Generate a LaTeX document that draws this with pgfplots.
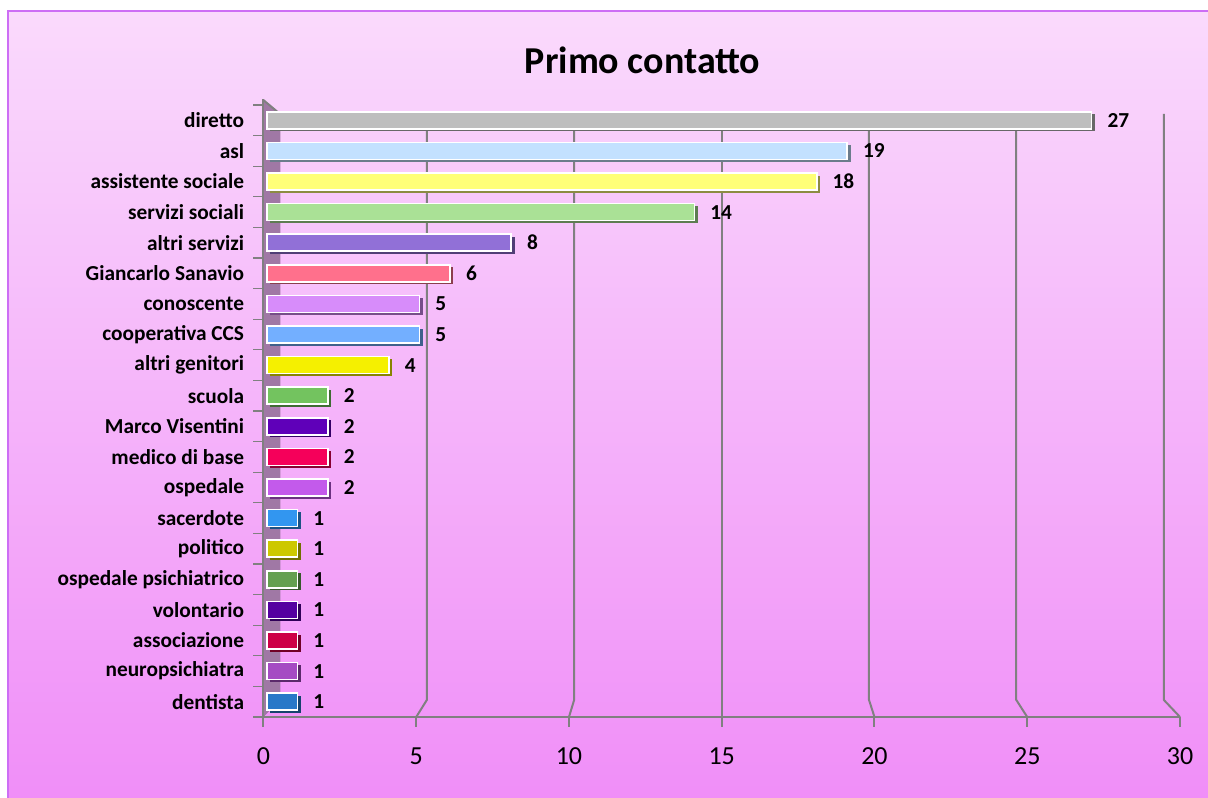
\documentclass[border=0pt]{standalone}
\usepackage{pgfplots}
\pgfplotsset{compat=1.18}
\usepackage{fontspec}
\setmainfont{Carlito}
\definecolor{bgtop}{RGB}{250,218,252}
\definecolor{bgbot}{RGB}{240,142,248}
\definecolor{frame}{RGB}{205,110,245}
\definecolor{axgray}{RGB}{128,128,128}
\definecolor{wall}{RGB}{160,120,165}
\definecolor{c1}{RGB}{190,190,190}
\definecolor{c2}{RGB}{195,225,255}
\definecolor{c3}{RGB}{255,255,120}
\definecolor{c4}{RGB}{170,225,150}
\definecolor{c5}{RGB}{145,112,215}
\definecolor{c6}{RGB}{255,112,140}
\definecolor{c7}{RGB}{215,140,250}
\definecolor{c8}{RGB}{115,175,255}
\definecolor{c9}{RGB}{245,240,0}
\definecolor{c10}{RGB}{115,195,95}
\definecolor{c11}{RGB}{95,0,185}
\definecolor{c12}{RGB}{245,0,90}
\definecolor{c13}{RGB}{195,90,235}
\definecolor{c14}{RGB}{50,150,240}
\definecolor{c15}{RGB}{205,200,0}
\definecolor{c16}{RGB}{100,160,80}
\definecolor{c17}{RGB}{85,0,160}
\definecolor{c18}{RGB}{205,0,70}
\definecolor{c19}{RGB}{165,75,195}
\definecolor{c20}{RGB}{40,120,200}
\newcommand\mybar[3]{%
  \addplot[xbar, bar shift=0pt, bar width=12.75pt, fill=#1!55!black, draw=none, xshift=5pt, yshift=-2pt] coordinates {(#3,#2)};
  \addplot[xbar, bar shift=0pt, bar width=12.75pt, fill=#1, draw=white, line width=1.2pt, xshift=2.5pt,
    point meta=x, nodes near coords,
    every node near coord/.style={anchor=west, font=\bfseries\fontsize{16}{18}\selectfont, text=black, xshift=8pt}] coordinates {(#3,#2)};
}
\begin{document}
\begin{tikzpicture}
\useasboundingbox (0,0) rectangle (906pt,598.5pt);
\fill[white] (0,0) rectangle (906pt,598.5pt);
\shade[top color=bgtop, bottom color=bgbot] (6pt,-2pt) rectangle (910pt,590.25pt);
\draw[frame, line width=1.2pt] (6pt,-5pt) -- (6pt,590.25pt) -- (910pt,590.25pt);
\node[font=\bfseries\fontsize{28.5}{32}\selectfont] at (482pt,553.5pt) {Primo contatto};
\begin{axis}[
  at={(197.6pt,60.75pt)}, anchor=south west,
  scale only axis, width=687.4pt, height=459pt,
  xmin=0, xmax=30, ymin=0.5, ymax=20.5,
  y dir=reverse,
  clip=false,
  axis x line=bottom, axis y line=left,
  axis line style={axgray, line width=2pt, -},
  xtick={0,5,...,30},
  ytick={0.5,1.5,...,20.5},
  yticklabels={},
  extra y ticks={1,...,20},
  extra y tick style={major tick length=0pt, yticklabel style={font=\bfseries\fontsize{16}{18}\selectfont, xshift=-11pt}},
  extra y tick labels={diretto,asl,assistente sociale,servizi sociali,altri servizi,Giancarlo Sanavio,conoscente,cooperativa CCS,altri genitori,scuola,Marco Visentini,medico di base,ospedale,sacerdote,politico,ospedale psichiatrico,volontario,associazione,neuropsichiatra,dentista},
  tick style={axgray, line width=1.5pt},
  major tick length=7.5pt,
  ytick style={axgray, line width=1pt},
  tick align=outside,
  xticklabel style={font=\fontsize{19.5}{22}\selectfont, yshift=-12pt},
  /pgf/number format/assume math mode=true,
  grid=none,
]
% back wall and gridlines
\fill[wall] (axis cs:0,0.34) -- (axis cs:0.55,0.8) -- (axis cs:0.55,19.94) -- (axis cs:0,20.5) -- cycle;
\draw[axgray, line width=1.5pt] (axis cs:0,0.34) -- (axis cs:0.55,0.8);
\draw[axgray, line width=1.5pt] (axis cs:0,20.5) -- (axis cs:0,0.3);
\foreach \v/\b in {5/5.35,10/10.17,15/15,20/19.82,25/24.64,30/29.47}{
  \edef\temp{\noexpand\draw[axgray, line width=1.5pt] (axis cs:\b,0.79) -- (axis cs:\b,19.94) -- (axis cs:\v,20.5);}
  \temp
}
\mybar{c1}{1}{27}
\mybar{c2}{2}{19}
\mybar{c3}{3}{18}
\mybar{c4}{4}{14}
\mybar{c5}{5}{8}
\mybar{c6}{6}{6}
\mybar{c7}{7}{5}
\mybar{c8}{8}{5}
\mybar{c9}{9}{4}
\mybar{c10}{10}{2}
\mybar{c11}{11}{2}
\mybar{c12}{12}{2}
\mybar{c13}{13}{2}
\mybar{c14}{14}{1}
\mybar{c15}{15}{1}
\mybar{c16}{16}{1}
\mybar{c17}{17}{1}
\mybar{c18}{18}{1}
\mybar{c19}{19}{1}
\mybar{c20}{20}{1}
\end{axis}
\end{tikzpicture}
\end{document}
